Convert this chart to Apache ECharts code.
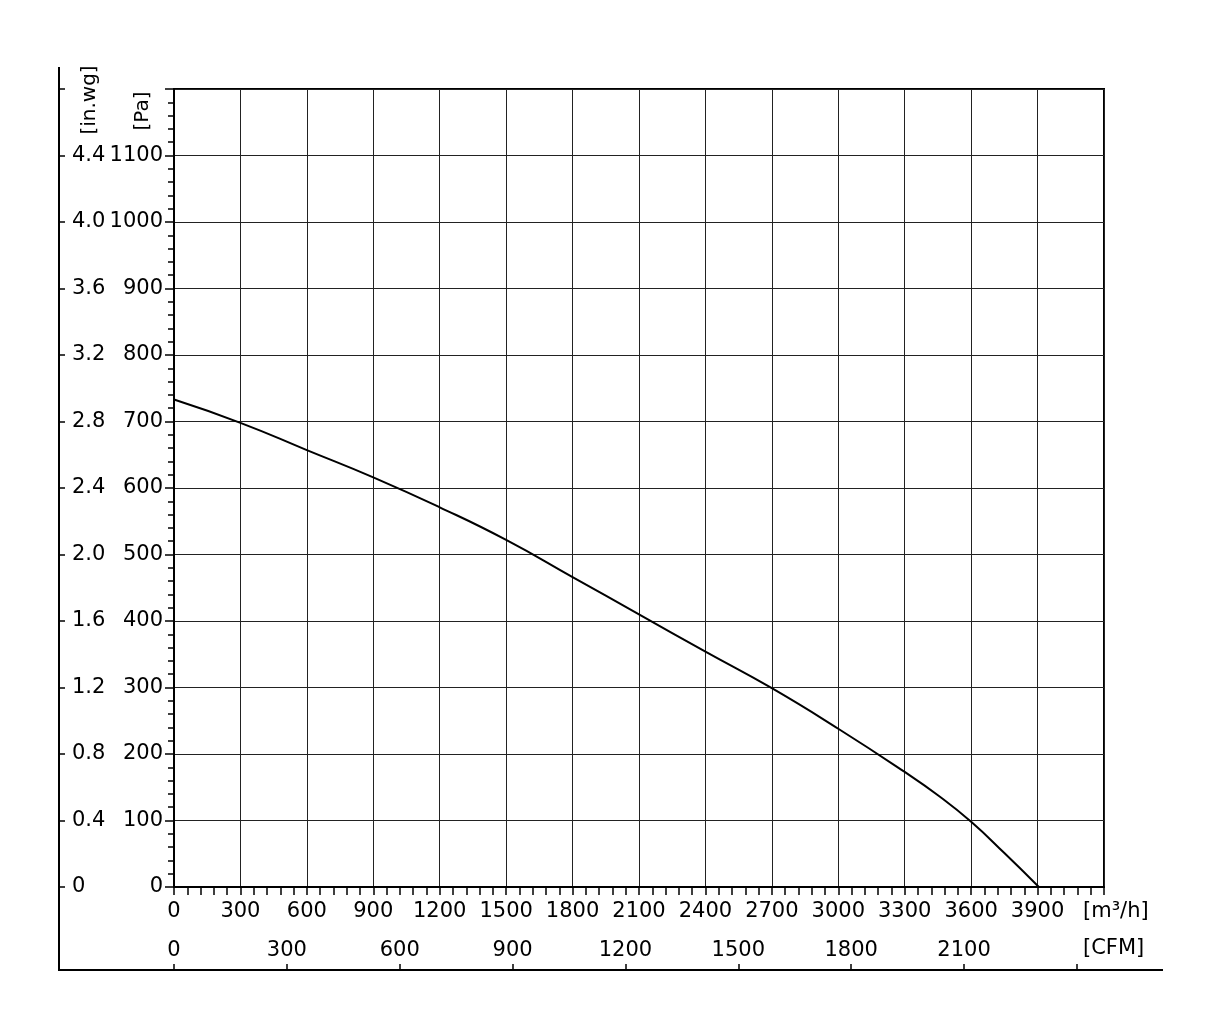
<!DOCTYPE html>
<html>
<head>
<meta charset="utf-8">
<title>fan curve</title>
<script src="https://cdn.jsdelivr.net/npm/echarts@6/dist/echarts.min.js"></script>
<style>
    body { margin: 0; background: #fff; }
    #main { width: 1226px; height: 1034px; }
</style>
</head>
<body>
<div id="main"></div>
<script>
// 风量 m3/h 与 静压 Pa
var flowM3h = [0, 300, 600, 900, 1200, 1500, 1800, 2100, 2400, 2700, 3000, 3300, 3450, 3600, 3750, 3906];
var pressurePa = [733, 698, 657, 616, 571, 522, 466, 410, 354, 299, 238, 173, 138, 98, 51, 0];

// 刻度标签
var inwgLabels = ['0', '0.4', '0.8', '1.2', '1.6', '2.0', '2.4', '2.8', '3.2', '3.6', '4.0', '4.4'];
var cfmLastLabel = 2100;
var m3hPerCfm = 1.699;

var font = 'DejaVu Sans';
var black = '#000';

var curve = flowM3h.map(function (q, i) { return [q, pressurePa[i]]; });

var myChart = echarts.init(document.getElementById('main'));
var option = {
    animation: false,
    backgroundColor: '#fff',
    grid: [
        {
            left: 174, top: 89, width: 930, height: 798,
            show: true, borderColor: black, borderWidth: 2
        },
        {
            // CFM 轴用的透明 grid，底边在 y=970
            left: 174, top: 89, width: 930, height: 881
        }
    ],
    xAxis: [
        {
            type: 'value', min: 0, max: 4200, interval: 300,
            position: 'bottom',
            axisLine: { show: true, lineStyle: { color: black, width: 2 } },
            axisTick: { show: true, inside: false, length: 8, lineStyle: { color: black, width: 1.5 } },
            minorTick: { show: true, splitNumber: 5, length: 8, lineStyle: { color: black, width: 1.5 } },
            axisLabel: {
                color: black, fontFamily: font, fontSize: 21, margin: 14,
                formatter: function (v) { return v >= 4200 ? '' : String(v); }   // 去掉千分位
            },
            splitLine: { show: true, lineStyle: { color: '#222', width: 1 } }
        },
        {
            // CFM 轴，和 m3/h 同一比例
            type: 'value', gridIndex: 1, min: 0, max: 4200 / m3hPerCfm, interval: 300,
            position: 'bottom',
            axisLine: { show: true, lineStyle: { color: black, width: 2 } },
            axisTick: { show: true, inside: true, length: 6, lineStyle: { color: black, width: 1.5 } },
            axisLabel: {
                inside: true, margin: 9, color: black, fontFamily: font, fontSize: 21,
                showMaxLabel: false,
                formatter: function (v) { return v > cfmLastLabel ? '' : String(v); }
            },
            splitLine: { show: false }
        }
    ],
    yAxis: [
        {
            type: 'value', min: 0, max: 1200, interval: 100,
            position: 'left',
            axisLine: { show: true, lineStyle: { color: black, width: 2 } },
            axisTick: { show: true, inside: false, length: 9, lineStyle: { color: black, width: 1.5 } },
            minorTick: { show: true, splitNumber: 5, length: 6, lineStyle: { color: black, width: 1.5 } },
            axisLabel: {
                color: black, fontFamily: font, fontSize: 21, margin: 11,
                formatter: function (v) { return v >= 1200 ? '' : String(v); }
            },
            splitLine: { show: true, lineStyle: { color: '#222', width: 1 } }
        },
        {
            // in.wg 标签，按 Pa 刻度位置排
            type: 'value', min: 0, max: 1200, interval: 100,
            position: 'left', offset: 115,
            axisLine: { show: false },
            axisTick: { show: true, inside: true, length: 6, lineStyle: { color: black, width: 1.5 } },
            axisLabel: {
                inside: true, margin: 13, color: black, fontFamily: font, fontSize: 21,
                formatter: function (v) { return v >= 1200 ? '' : inwgLabels[Math.round(v / 100)]; }
            },
            splitLine: { show: false }
        },
        {
            type: 'value', gridIndex: 1, show: false, min: 0, max: 1
        }
    ],
    graphic: [
        { type: 'line', shape: { x1: 59, y1: 67, x2: 59, y2: 971 }, style: { stroke: black, lineWidth: 2 } },
        { type: 'line', shape: { x1: 58, y1: 970, x2: 1163, y2: 970 }, style: { stroke: black, lineWidth: 2 } },
        { type: 'text', x: 90, y: 100, rotation: Math.PI / 2,
          style: { text: '[in.wg]', fill: black, font: '20px "DejaVu Sans"', align: 'center', verticalAlign: 'middle' } },
        { type: 'text', x: 143, y: 111, rotation: Math.PI / 2,
          style: { text: '[Pa]', fill: black, font: '20px "DejaVu Sans"', align: 'center', verticalAlign: 'middle' } },
        { type: 'text', x: 1083, y: 912,
          style: { text: '[m³/h]', fill: black, font: '21px "DejaVu Sans"', align: 'left', verticalAlign: 'middle' } },
        { type: 'text', x: 1083, y: 949,
          style: { text: '[CFM]', fill: black, font: '21px "DejaVu Sans"', align: 'left', verticalAlign: 'middle' } }
    ],
    series: [
        {
            type: 'line',
            xAxisIndex: 0, yAxisIndex: 0,
            data: curve,
            smooth: 0.5,
            showSymbol: false,
            lineStyle: { color: black, width: 2 }
        }
    ]
};

myChart.setOption(option);
</script>
</body>
</html>
